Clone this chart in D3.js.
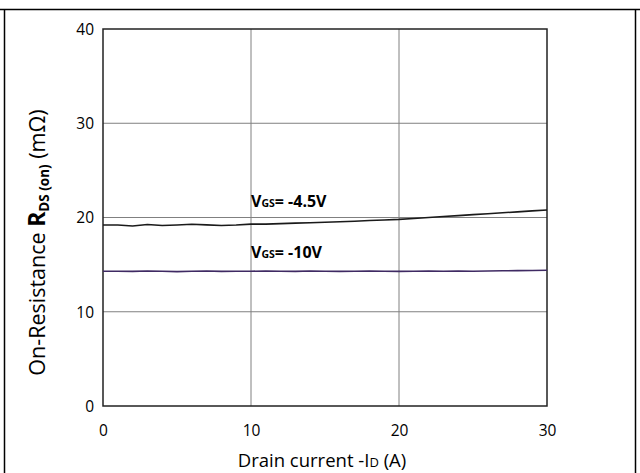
<!DOCTYPE html>
<html>
<head>
<meta charset="utf-8">
<script src="https://cdn.jsdelivr.net/npm/d3@7"></script>
<style>
  html, body { margin: 0; padding: 0; background: #fff; }
  svg { display: block; font-family: "Open Sans", "Liberation Sans", sans-serif; }
</style>
</head>
<body>
<svg id="chart" width="640" height="473"></svg>
<script>
// Drain current -ID (A)
const currentVgs45 = [0, 1, 2, 3, 4, 5, 6, 7, 8, 9, 10, 11, 12, 13, 14, 15, 16, 17, 18, 19, 20, 21, 22, 23, 24, 25, 26, 27, 28, 29, 30];
// On-resistance (mΩ) at VGS = -4.5 V
const rdsVgs45 = [19.2, 19.2, 19.1, 19.25, 19.15, 19.2, 19.28, 19.22, 19.15, 19.2, 19.3, 19.3, 19.35, 19.4, 19.45, 19.5, 19.55, 19.6, 19.68, 19.74, 19.8, 19.9, 20.0, 20.1, 20.2, 20.3, 20.4, 20.5, 20.6, 20.7, 20.8];
const currentVgs10 = [0, 1, 2, 3, 4, 5, 6, 7, 8, 9, 10, 11, 12, 13, 14, 15, 16, 17, 18, 19, 20, 21, 22, 23, 24, 25, 26, 27, 28, 29, 30];
// On-resistance (mΩ) at VGS = -10 V
const rdsVgs10 = [14.3, 14.3, 14.28, 14.32, 14.3, 14.26, 14.3, 14.32, 14.28, 14.3, 14.3, 14.32, 14.3, 14.28, 14.32, 14.3, 14.28, 14.3, 14.32, 14.3, 14.28, 14.3, 14.32, 14.3, 14.33, 14.3, 14.32, 14.35, 14.36, 14.38, 14.4];

const xTicks = [0, 10, 20, 30];
const yTicks = [0, 10, 20, 30, 40];

const svg = d3.select("#chart");
const plot = { left: 103, top: 29, right: 547, bottom: 406 };

const x = d3.scaleLinear().domain([0, 30]).range([plot.left, plot.right]);
const y = d3.scaleLinear().domain([0, 40]).range([plot.bottom, plot.top]);

// outer frame
svg.append("line").attr("x1", 0).attr("x2", 640).attr("y1", 9.5).attr("y2", 9.5)
  .attr("stroke", "#000").attr("stroke-width", 1.5);
svg.append("line").attr("x1", 4.5).attr("x2", 4.5).attr("y1", 9).attr("y2", 473)
  .attr("stroke", "#000").attr("stroke-width", 1.5);
svg.append("line").attr("x1", 635.5).attr("x2", 635.5).attr("y1", 9).attr("y2", 473)
  .attr("stroke", "#000").attr("stroke-width", 1.5);

// gridlines
const grid = svg.append("g");
grid.selectAll(".gx").data(xTicks.slice(1, -1)).join("line")
  .attr("x1", d => x(d)).attr("x2", d => x(d))
  .attr("y1", plot.top).attr("y2", plot.bottom)
  .attr("stroke", "#808080").attr("stroke-width", 1);
grid.selectAll(".gy").data(yTicks.slice(1, -1)).join("line")
  .attr("x1", plot.left).attr("x2", plot.right)
  .attr("y1", d => y(d)).attr("y2", d => y(d))
  .attr("stroke", "#808080").attr("stroke-width", 1);

// plot border
svg.append("rect")
  .attr("x", plot.left).attr("y", plot.top)
  .attr("width", plot.right - plot.left).attr("height", plot.bottom - plot.top)
  .attr("fill", "none").attr("stroke", "#222").attr("stroke-width", 1.5);

// axes (labels only)
const xAxis = svg.append("g").attr("transform", `translate(0,${plot.bottom + 18})`)
  .call(d3.axisBottom(x).tickValues(xTicks).tickSize(0).tickPadding(0));
const yAxis = svg.append("g").attr("transform", `translate(${plot.left - 9},0)`)
  .call(d3.axisLeft(y).tickValues(yTicks).tickSize(0).tickPadding(0));
[xAxis, yAxis].forEach(a => {
  a.attr("font-size", null).attr("font-family", null);
  a.select(".domain").remove();
  a.selectAll("text").style("font-family", "'Open Sans', sans-serif")
    .style("font-size", "15.5px").attr("fill", "#000");
});
xAxis.selectAll("text").attr("dy", "0.75em");
yAxis.selectAll("text").attr("dy", "0.35em");

// curves
const line = d3.line().x(d => x(d[0])).y(d => y(d[1])).curve(d3.curveLinear);
svg.append("path")
  .datum(currentVgs10.map((c, i) => [c, rdsVgs10[i]]))
  .attr("d", line).attr("fill", "none").attr("stroke", "#3f2a63").attr("stroke-width", 1.6);
svg.append("path")
  .datum(currentVgs45.map((c, i) => [c, rdsVgs45[i]]))
  .attr("d", line).attr("fill", "none").attr("stroke", "#1a1a1a").attr("stroke-width", 1.6);

// curve labels
function vgsLabel(cx, cy, value) {
  const t = svg.append("text").attr("x", x(cx)).attr("y", y(cy))
    .style("font-family", "'Open Sans', sans-serif").attr("font-weight", "bold")
    .style("font-size", "16px").attr("fill", "#000");
  t.append("tspan").text("V");
  t.append("tspan").style("font-size", "10.5px").text("GS");
  t.append("tspan").text("= " + value);
}
vgsLabel(10, 21.1, "-4.5V");
vgsLabel(10, 15.7, "-10V");

// x axis title
const xt = svg.append("text").attr("x", 322).attr("y", 467)
  .attr("text-anchor", "middle").style("font-size", "18.5px").attr("fill", "#000");
xt.append("tspan").text("Drain current -I");
xt.append("tspan").style("font-size", "13px").text("D");
xt.append("tspan").text(" (A)");

// y axis title
const yt = svg.append("text")
  .attr("transform", `translate(45,${(plot.top + plot.bottom) / 2 + 25}) rotate(-90)`)
  .attr("text-anchor", "middle").style("font-size", "21.5px").attr("fill", "#000");
yt.append("tspan").text("On-Resistance  ");
yt.append("tspan").attr("font-weight", "bold").style("font-size", "23px").text("R");
yt.append("tspan").attr("font-weight", "bold").style("font-size", "13.5px").attr("dy", 4).text("DS (on)");
yt.append("tspan").attr("dy", -4).text(" (mΩ)");
</script>
</body>
</html>
